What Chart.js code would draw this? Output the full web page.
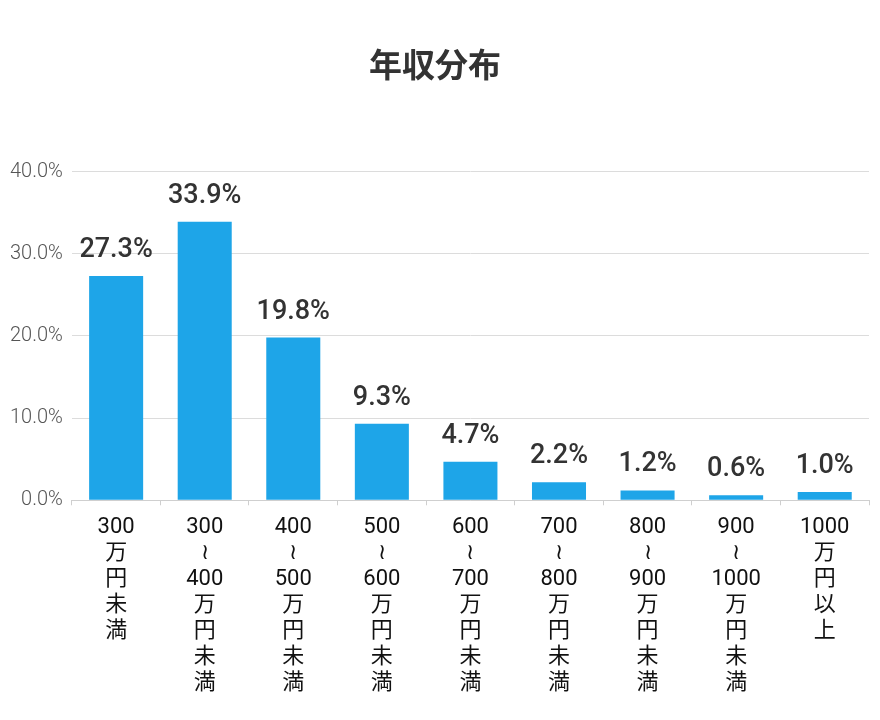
<!DOCTYPE html>
<html>
<head>
<meta charset="utf-8">
<script src="https://cdn.jsdelivr.net/npm/chart.js@4.4.1/dist/chart.umd.min.js"></script>
<style>
  html, body { margin: 0; padding: 0; background: #fff; }
  #wrap { width: 880px; height: 720px; }
</style>
</head>
<body>
<div id="wrap"><canvas id="grafRenda"></canvas></div>
<script>
const categorias = [
  ['300', '万', '円', '未', '満'],
  ['300', '≀', '400', '万', '円', '未', '満'],
  ['400', '≀', '500', '万', '円', '未', '満'],
  ['500', '≀', '600', '万', '円', '未', '満'],
  ['600', '≀', '700', '万', '円', '未', '満'],
  ['700', '≀', '800', '万', '円', '未', '満'],
  ['800', '≀', '900', '万', '円', '未', '満'],
  ['900', '≀', '1000', '万', '円', '未', '満'],
  ['1000', '万', '円', '以', '上']
];
const valores = [27.3, 33.9, 19.8, 9.3, 4.7, 2.2, 1.2, 0.6, 1.0];
const yTicks = [0, 10, 20, 30, 40];

var azul = '#1ea5e8'
var fonte = "Roboto, 'Noto Sans CJK JP', sans-serif"

// rótulos acima das barras
const rotulos = {
  id: 'rotulos',
  afterDatasetsDraw(chart) {
    const c = chart.ctx;
    const meta = chart.getDatasetMeta(0);
    c.save();
    c.font = '500 27px ' + fonte;
    c.fillStyle = '#333';
    c.textAlign = 'center';
    c.textBaseline = 'alphabetic';
    meta.data.forEach((bar, i) => {
      c.fillText(valores[i].toFixed(1) + '%', bar.x, bar.y - 19);
    });
    c.restore();
  }
};

const ctx = document.getElementById('grafRenda');

new Chart(ctx, {
  type: 'bar',
  data: {
    labels: categorias,
    datasets: [{
      data: valores,
      backgroundColor: azul,
      barPercentage: 0.61,
      categoryPercentage: 1
    }]
  },
  options: {
    responsive: true,
    maintainAspectRatio: false,
    animation: false,
    layout: {
      padding: { left: 1, right: 11, bottom: 15 }
    },
    scales: {
      x: {
        grid: {
          drawOnChartArea: false,
          drawTicks: true,
          tickLength: 5,
          color: '#cfcfcf',
          offset: true
        },
        border: { color: '#cfcfcf' },
        ticks: {
          color: '#111',
          padding: 9,
          maxRotation: 0,
          autoSkip: false,
          font: { family: fonte, size: 22, lineHeight: 1.18 }
        }
      },
      y: {
        min: 0,
        max: 40,
        afterBuildTicks(axis) {
          axis.ticks = yTicks.map(v => ({ value: v }));
        },
        grid: { color: '#dcdcdc', drawTicks: false },
        border: { display: false },
        ticks: {
          color: '#555',
          padding: 9,
          font: { family: fonte, size: 20, weight: '300' },
          callback: v => v.toFixed(1) + '%'
        }
      }
    },
    plugins: {
      legend: { display: false },
      tooltip: { enabled: false },
      title: {
        display: true,
        text: '年収分布',
        color: '#333',
        font: { family: "'Noto Sans CJK JP', sans-serif", size: 33, weight: 'bold', lineHeight: 1.2 },
        padding: { top: 45, bottom: 87 }
      }
    }
  },
  plugins: [rotulos]
});
</script>
</body>
</html>
